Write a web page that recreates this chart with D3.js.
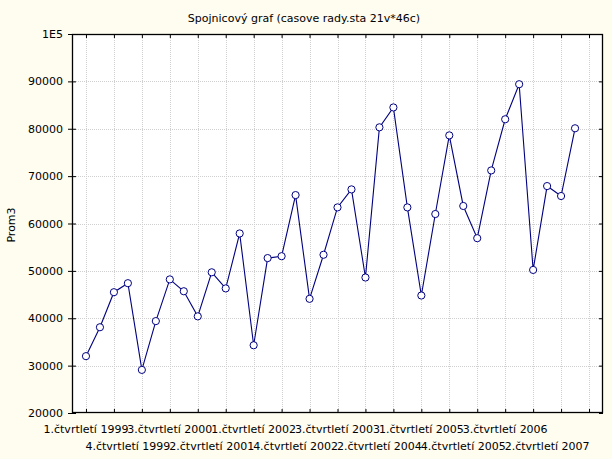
<!DOCTYPE html>
<html>
<head>
<meta charset="utf-8">
<script src="https://cdn.jsdelivr.net/npm/d3@7"></script>
<style>
  html, body { margin: 0; padding: 0; background: #fffcf0; }
  svg { display: block; }
  text { font-family: "DejaVu Sans", sans-serif; font-size: 11px; fill: #000; }
</style>
</head>
<body>
<svg id="chart" width="612" height="459"></svg>
<script>
const title = "Spojnicový graf (casove rady.sta 21v*46c)";
const yLabel = "Prom3";
const categories = [
  "1.čtvrtletí 1999","2.čtvrtletí 1999","3.čtvrtletí 1999","4.čtvrtletí 1999",
  "1.čtvrtletí 2000","2.čtvrtletí 2000","3.čtvrtletí 2000","4.čtvrtletí 2000",
  "1.čtvrtletí 2001","2.čtvrtletí 2001","3.čtvrtletí 2001","4.čtvrtletí 2001",
  "1.čtvrtletí 2002","2.čtvrtletí 2002","3.čtvrtletí 2002","4.čtvrtletí 2002",
  "1.čtvrtletí 2003","2.čtvrtletí 2003","3.čtvrtletí 2003","4.čtvrtletí 2003",
  "1.čtvrtletí 2004","2.čtvrtletí 2004","3.čtvrtletí 2004","4.čtvrtletí 2004",
  "1.čtvrtletí 2005","2.čtvrtletí 2005","3.čtvrtletí 2005","4.čtvrtletí 2005",
  "1.čtvrtletí 2006","2.čtvrtletí 2006","3.čtvrtletí 2006","4.čtvrtletí 2006",
  "1.čtvrtletí 2007","2.čtvrtletí 2007","3.čtvrtletí 2007","4.čtvrtletí 2007"
];
const values = [
  32000, 38100, 45500, 47400, 29100, 39400, 48200, 45700, 40400, 49700, 46300, 57900,
  34300, 52700, 53100, 66000, 44100, 53400, 63400, 67200, 48600, 80300, 84500, 63400,
  44800, 62000, 78600, 63700, 56900, 71200, 82000, 89400, 50200, 67900, 65800, 80100
];
const yTicks = [20000, 30000, 40000, 50000, 60000, 70000, 80000, 90000, 100000];
const yTickLabels = ["20000","30000","40000","50000","60000","70000","80000","90000","1E5"];
// label every third category, in two alternating rows
const labelIdx = [0, 3, 6, 9, 12, 15, 18, 21, 24, 27, 30, 33];
// tick/grid positions every second category
const xTickIdx = [0,2,4,6,8,10,12,14,16,18,20,22,24,26,28,30,32,34,36];

const svg = d3.select("#chart");
const L = 72, R = 603, T = 34, B = 413;

const x = d3.scaleLinear().domain([-1, 37]).range([L, R]);
const y = d3.scaleLinear().domain([20000, 100000]).range([B, T]);

// plot area
svg.append("rect").attr("x", L).attr("y", T).attr("width", R - L).attr("height", B - T)
  .attr("fill", "#ffffff");

// grid
const grid = svg.append("g").attr("stroke", "#cfcfcf").attr("stroke-width", 1)
  .attr("stroke-dasharray", "1,1").attr("shape-rendering", "crispEdges");
grid.selectAll("line.v").data(xTickIdx).join("line").attr("class", "v")
  .attr("x1", d => Math.round(x(d)) + 0.5).attr("x2", d => Math.round(x(d)) + 0.5)
  .attr("y1", T).attr("y2", B);
grid.selectAll("line.h").data(yTicks.slice(1, -1)).join("line").attr("class", "h")
  .attr("x1", L).attr("x2", R)
  .attr("y1", d => Math.round(y(d)) + 0.5).attr("y2", d => Math.round(y(d)) + 0.5);

// axes (ticks)
const yAxisL = d3.axisLeft(y).tickValues(yTicks).tickSize(-4).tickFormat((d, i) => yTickLabels[i]).tickPadding(9);
const gy = svg.append("g").attr("transform", `translate(${L},0)`).call(yAxisL);
gy.select(".domain").remove();
gy.selectAll("text").style("font-family", '"DejaVu Sans", sans-serif').style("font-size", "11px").attr("fill", "#000");
gy.selectAll(".tick line").attr("stroke", "#000").attr("x1", -4).attr("x2", 4);

const yAxisR = d3.axisRight(y).tickValues(yTicks).tickSize(-4).tickFormat("");
const gyr = svg.append("g").attr("transform", `translate(${R},0)`).call(yAxisR);
gyr.select(".domain").remove();
gyr.selectAll(".tick line").attr("stroke", "#000");

const xAxisB = d3.axisBottom(x).tickValues(xTickIdx).tickSize(-4).tickFormat("");
const gxb = svg.append("g").attr("transform", `translate(0,${B})`).call(xAxisB);
gxb.select(".domain").remove();
gxb.selectAll(".tick line").attr("stroke", "#000");

const xAxisT = d3.axisTop(x).tickValues(xTickIdx).tickSize(-4).tickFormat("");
const gxt = svg.append("g").attr("transform", `translate(0,${T})`).call(xAxisT);
gxt.select(".domain").remove();
gxt.selectAll(".tick line").attr("stroke", "#000");

// frame
svg.append("rect").attr("x", L + 0.5).attr("y", T + 0.5).attr("width", R - L - 1).attr("height", B - T - 1)
  .attr("fill", "none").attr("stroke", "#000").attr("stroke-width", 1.3);

// x labels
svg.append("g").selectAll("text").data(labelIdx).join("text")
  .attr("x", d => x(d))
  .attr("y", (d, i) => i % 2 === 0 ? 433 : 450)
  .attr("text-anchor", "middle")
  .text(d => categories[d]);

// line
const line = d3.line().x((d, i) => x(i)).y(d => y(d));
svg.append("path").datum(values).attr("d", line)
  .attr("fill", "none").attr("stroke", "#000080").attr("stroke-width", 1.1);

svg.append("g").selectAll("circle").data(values).join("circle")
  .attr("cx", (d, i) => x(i)).attr("cy", d => y(d)).attr("r", 3.6)
  .attr("fill", "#ffffff").attr("stroke", "#000080").attr("stroke-width", 1);

// title
svg.append("text").attr("x", 304).attr("y", 22).attr("text-anchor", "middle").text(title);

// y label
svg.append("text").attr("transform", "translate(15,225) rotate(-90)")
  .attr("text-anchor", "middle").text(yLabel);
</script>
</body>
</html>
